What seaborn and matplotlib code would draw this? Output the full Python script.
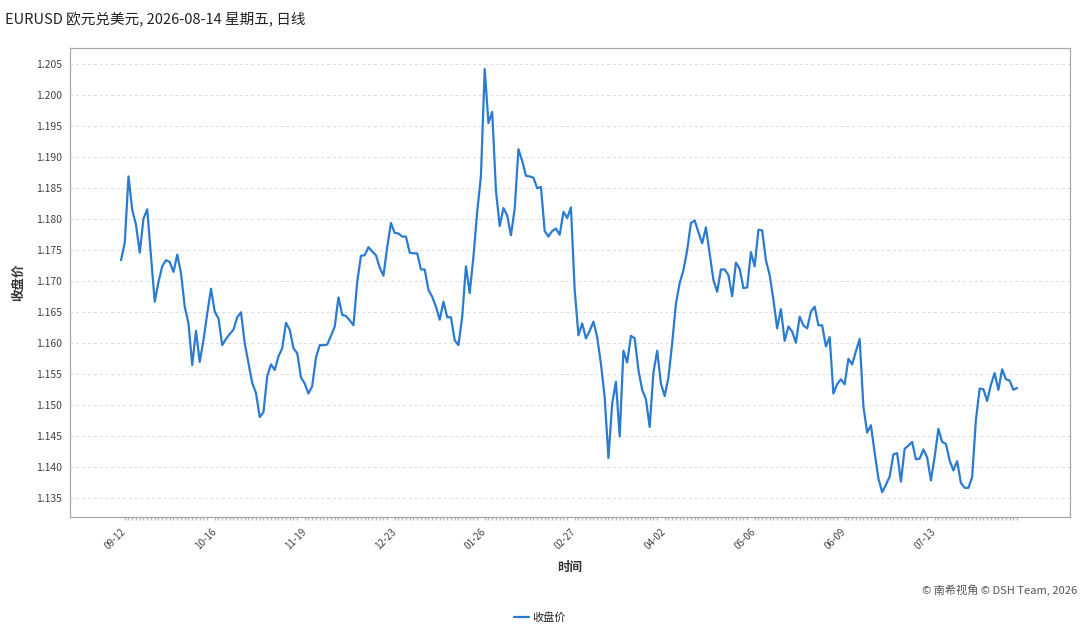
import numpy as np
import pandas as pd
import matplotlib
matplotlib.use("Agg")
import matplotlib.pyplot as plt
import seaborn as sns

# EURUSD daily close
close = [
    1.1734, 1.1762, 1.1869, 1.1815, 1.1791, 1.1746, 1.1801, 1.1816, 1.1740, 1.1667,
    1.1699, 1.1724, 1.1734, 1.1731, 1.1715, 1.1743, 1.1713, 1.1659, 1.1632, 1.1565,
    1.1620, 1.1570, 1.1605, 1.1648, 1.1688, 1.1651, 1.1640, 1.1597, 1.1607, 1.1615,
    1.1622, 1.1642, 1.1650, 1.1600, 1.1568, 1.1536, 1.1520, 1.1481, 1.1489, 1.1547,
    1.1566, 1.1557, 1.1579, 1.1592, 1.1633, 1.1622, 1.1592, 1.1584, 1.1545, 1.1535,
    1.1519, 1.1531, 1.1577, 1.1597, 1.1597, 1.1598, 1.1612, 1.1627, 1.1674, 1.1646,
    1.1644, 1.1637, 1.1629, 1.1699, 1.1741, 1.1742, 1.1755, 1.1748, 1.1742, 1.1722,
    1.1709, 1.1755, 1.1794, 1.1778, 1.1777, 1.1772, 1.1772, 1.1746, 1.1745, 1.1745,
    1.1719, 1.1719, 1.1686, 1.1675, 1.1659, 1.1638, 1.1667, 1.1642, 1.1642, 1.1605,
    1.1597, 1.1643, 1.1724, 1.1681, 1.1740, 1.1812, 1.1870, 1.2042, 1.1955, 1.1973,
    1.1846, 1.1789, 1.1818, 1.1806, 1.1774, 1.1817, 1.1913, 1.1894, 1.1870, 1.1869,
    1.1867, 1.1850, 1.1852, 1.1781, 1.1772, 1.1781, 1.1785, 1.1775, 1.1812, 1.1802,
    1.1819, 1.1686, 1.1613, 1.1632, 1.1608, 1.1620, 1.1635, 1.1610, 1.1567, 1.1513,
    1.1415, 1.1503, 1.1538, 1.1450, 1.1588, 1.1569, 1.1612, 1.1608, 1.1557, 1.1525,
    1.1510, 1.1465, 1.1553, 1.1588, 1.1535, 1.1515, 1.1545, 1.1600, 1.1664, 1.1697,
    1.1718, 1.1750, 1.1794, 1.1798, 1.1779, 1.1761, 1.1787, 1.1745, 1.1702, 1.1683,
    1.1719, 1.1719, 1.1710, 1.1676, 1.1730, 1.1720, 1.1689, 1.1690, 1.1747, 1.1724,
    1.1783, 1.1782, 1.1734, 1.1710, 1.1670, 1.1624, 1.1655, 1.1604, 1.1627, 1.1619,
    1.1601, 1.1643, 1.1629, 1.1624, 1.1651, 1.1659, 1.1629, 1.1629, 1.1595, 1.1610,
    1.1519, 1.1534, 1.1542, 1.1534, 1.1575, 1.1566, 1.1587, 1.1607, 1.1498, 1.1456,
    1.1468, 1.1424, 1.1382, 1.1360, 1.1372, 1.1385, 1.1421, 1.1423, 1.1377, 1.1430,
    1.1435, 1.1441, 1.1413, 1.1414, 1.1429, 1.1416, 1.1379, 1.1417, 1.1462, 1.1441,
    1.1438, 1.1411, 1.1395, 1.1410, 1.1375, 1.1367, 1.1367, 1.1384, 1.1476, 1.1527,
    1.1526, 1.1507, 1.1533, 1.1552, 1.1525, 1.1558, 1.1542, 1.1540, 1.1525, 1.1528,
]
tick_labels = ["09-12", "10-16", "11-19", "12-23", "01-26",
               "02-27", "04-02", "05-06", "06-09", "07-13"]
tick_step = 24
y_ticks = [1.135, 1.140, 1.145, 1.150, 1.155, 1.160, 1.165,
           1.170, 1.175, 1.180, 1.185, 1.190, 1.195, 1.200, 1.205]

df = pd.DataFrame({"idx": np.arange(len(close)), "close": close})

sns.set_theme(style="white")
plt.rcParams["font.family"] = ["Noto Sans CJK SC", "DejaVu Sans"]

fig = plt.figure(figsize=(10.8, 6.3), dpi=100)
ax = fig.add_axes([70 / 1080, 1 - 517 / 630, 1000 / 1080, 469 / 630])

sns.lineplot(data=df, x="idx", y="close", ax=ax, color="#2b7bd0",
             linewidth=1.6, label="收盘价", legend=False)

ax.set_xlim(-13.6, 253.1)
ax.set_ylim(1.1320, 1.2076)

ax.set_yticks(y_ticks)
ax.set_yticklabels([f"{v:.3f}" for v in y_ticks], fontsize=7.5, color="#444444")
ax.yaxis.grid(True, linestyle=(0, (3, 3)), color="#dcdcdc", linewidth=0.7)
ax.xaxis.grid(False)

ax.set_xticks([i * tick_step for i in range(len(tick_labels))])
ax.set_xticklabels(tick_labels, rotation=45, ha="right", rotation_mode="anchor",
                   fontsize=7, color="#444444")
ax.set_xticks(np.arange(len(close)), minor=True)
ax.tick_params(axis="x", which="major", length=3, color="#999999", pad=4)
ax.tick_params(axis="x", which="minor", length=2, color="#bbbbbb", bottom=True)
ax.tick_params(axis="y", length=0, pad=6)

for s in ax.spines.values():
    s.set_color("#a8a8a8")
    s.set_linewidth(0.9)

ax.set_xlabel("时间", fontsize=9, fontweight="bold", color="#333333")
ax.xaxis.set_label_coords(0.5, -0.094)
ax.set_ylabel("收盘价", fontsize=9, fontweight="bold", color="#333333")
ax.yaxis.set_label_coords(-0.045, 0.5)

fig.text(5 / 1080, 1 - 20 / 630, "EURUSD 欧元兑美元, 2026-08-14 星期五, 日线",
         ha="left", va="center", fontsize=10.5, color="#222222")
fig.text(1077 / 1080, 1 - 590 / 630, "© 南希视角 © DSH Team, 2026",
         ha="right", va="center", fontsize=8, color="#555555")

handles, labels = ax.get_legend_handles_labels()
fig.legend(handles, labels, loc="center", bbox_to_anchor=(0.5, 1 - 617 / 630),
           frameon=False, fontsize=8, handlelength=1.3, handletextpad=0.3)

fig.savefig("out.png", dpi=100)
plt.close(fig)
